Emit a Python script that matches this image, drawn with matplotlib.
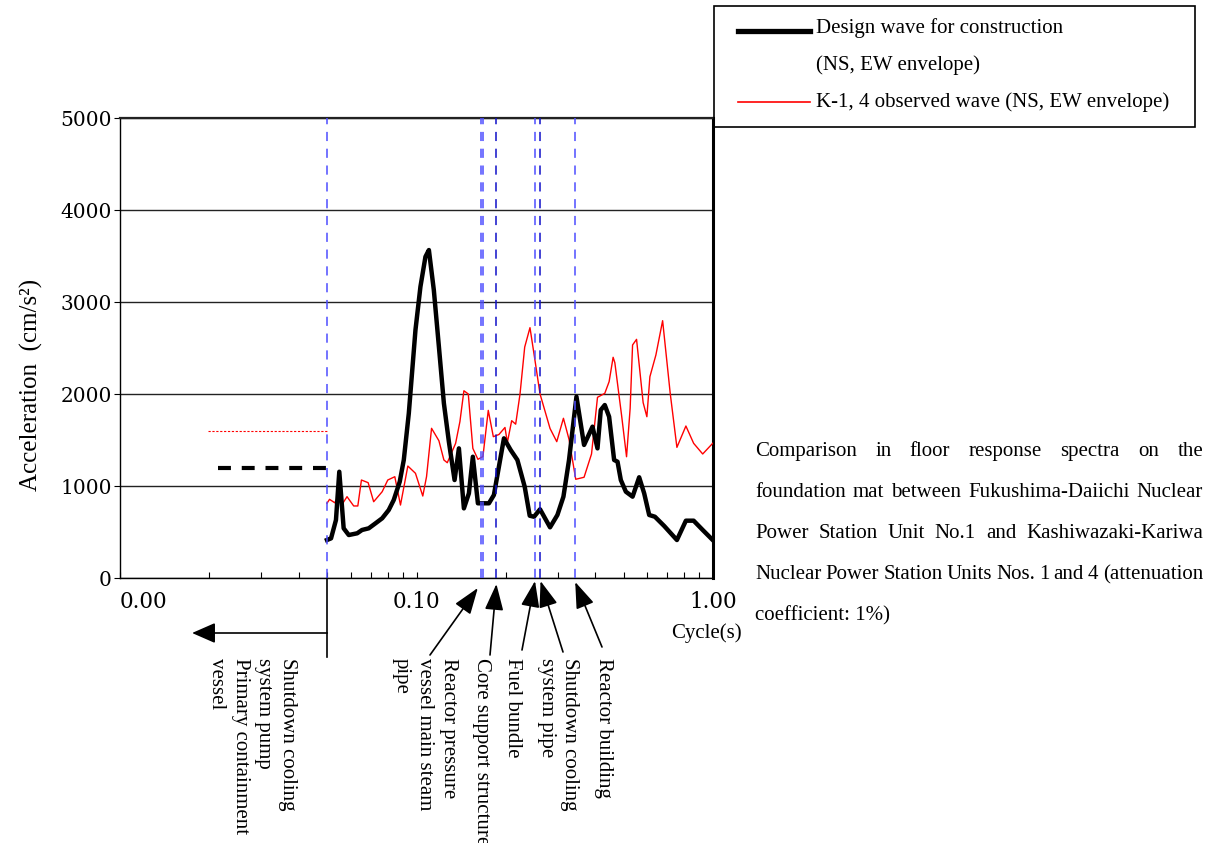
import matplotlib
matplotlib.use("Agg")
import matplotlib.pyplot as plt
from matplotlib.lines import Line2D
from matplotlib.patches import Rectangle

# Design wave for construction (NS, EW envelope)
design_period = [0.0499, 0.0515, 0.0535, 0.0549, 0.0568, 0.0591, 0.0631, 0.0655, 0.0690, 0.0727,
                 0.0766, 0.0806, 0.0838, 0.0878, 0.0906, 0.0942, 0.0992, 0.1031, 0.1072, 0.1101,
                 0.1144, 0.1190, 0.1237, 0.1286, 0.1344, 0.1390, 0.1445, 0.1502, 0.1549, 0.1611,
                 0.1755, 0.1824, 0.1972, 0.2078, 0.2189, 0.2317, 0.2409, 0.2491, 0.2610, 0.2821,
                 0.2987, 0.3130, 0.3269, 0.3463, 0.3674, 0.3923, 0.4078, 0.4183, 0.4315, 0.4463,
                 0.4640, 0.4764, 0.4888, 0.5083, 0.5355, 0.5636, 0.5860, 0.6092, 0.6369, 0.6847,
                 0.7556, 0.8102, 0.8604, 0.9231, 0.9977]
design_accel = [413, 431, 630, 1155, 540, 467, 486, 522, 540, 594,
                649, 739, 848, 1047, 1283, 1790, 2696, 3166, 3492, 3565,
                3130, 2514, 1899, 1480, 1065, 1409, 757, 920, 1318, 812,
                812, 902, 1518, 1391, 1283, 992, 677, 666, 747, 551,
                685, 884, 1283, 1971, 1446, 1645, 1409, 1826, 1880, 1753,
                1283, 1264, 1065, 938, 884, 1095, 920, 685, 666, 565,
                413, 623, 623, 522, 413]

# K-1, 4 observed wave (NS, EW envelope)
observed_period = [0.0499, 0.0509, 0.0530, 0.0549, 0.0564, 0.0583, 0.0614, 0.0634, 0.0652, 0.0687,
                   0.0717, 0.0766, 0.0800, 0.0845, 0.0883, 0.0935, 0.0992, 0.1050, 0.1081, 0.1124,
                   0.1190, 0.1237, 0.1270, 0.1355, 0.1401, 0.1445, 0.1495, 0.1549, 0.1611, 0.1675,
                   0.1746, 0.1816, 0.1897, 0.1988, 0.2025, 0.2094, 0.2160, 0.2234, 0.2317, 0.2414,
                   0.2503, 0.2610, 0.2821, 0.2972, 0.3130, 0.3269, 0.3444, 0.3674, 0.3893, 0.4078,
                   0.4315, 0.4463, 0.4604, 0.4666, 0.4915, 0.5110, 0.5255, 0.5355, 0.5523, 0.5813,
                   0.5984, 0.6126, 0.6418, 0.6762, 0.7173, 0.7556, 0.8102, 0.8604, 0.9231, 0.9977]
observed_accel = [812, 855, 818, 902, 812, 884, 783, 783, 1065, 1036,
                  829, 938, 1065, 1101, 793, 1217, 1138, 891, 1101, 1627,
                  1492, 1283, 1253, 1464, 1700, 2035, 2000, 1409, 1290, 1320,
                  1822, 1536, 1560, 1636, 1473, 1710, 1672, 1998, 2510, 2721,
                  2390, 2000, 1625, 1482, 1736, 1507, 1073, 1095, 1348, 1964,
                  2007, 2134, 2399, 2340, 1772, 1318, 1845, 2533, 2594, 1906,
                  1753, 2188, 2424, 2797, 2007, 1420, 1652, 1464, 1348, 1464]

# rigid-range levels below 0.05 s
design_rigid = 1200
observed_rigid = 1600
design_rigid_from = 0.0214
observed_rigid_from = 0.0198
rigid_limit = 0.05

# natural periods of the equipment (dashed markers)
equip_period = [0.05, 0.1645, 0.1675, 0.186, 0.251, 0.261, 0.343]
equip_dark = [False, False, False, True, False, True, False]

xticks = [0.01, 0.1, 1.0]
xtick_labels = ["0.00", "0.10", "1.00"]
yticks = [0, 1000, 2000, 3000, 4000, 5000]

# label, period the arrow points at
equip_labels = [
    ("Reactor pressure\nvessel main steam\npipe", 0.161),
    ("Core support structure", 0.186),
    ("Fuel bundle", 0.251),
    ("Shutdown cooling\nsystem pipe", 0.262),
    ("Reactor building", 0.343),
]

caption = [
    "Comparison in floor response spectra on the",
    "foundation mat between Fukushima-Daiichi Nuclear",
    "Power Station Unit No.1 and Kashiwazaki-Kariwa",
    "Nuclear Power Station Units Nos. 1 and 4 (attenuation",
    "coefficient: 1%)",
]

W, H = 1220, 843
SERIF = "Liberation Serif"
NUM = "DejaVu Serif"


def fxy(x, y):
    # pixel position (from top-left) -> figure fraction
    return x / W, 1 - y / H


def justified(fig, lines, x0, x1, y_first, dy, size):
    r = fig.canvas.get_renderer()
    for i, line in enumerate(lines):
        yb = y_first + i * dy
        if i == len(lines) - 1:
            fig.text(*fxy(x0, yb), line, family=SERIF, fontsize=size, va="baseline")
            continue
        words = line.split()
        arts = [fig.text(0, 0, w, family=SERIF, fontsize=size, va="baseline") for w in words]
        widths = [a.get_window_extent(r).width for a in arts]
        gap = (x1 - x0 - sum(widths)) / (len(words) - 1)
        x = x0
        for a, w in zip(arts, widths):
            a.set_position(fxy(x, yb))
            x += w + gap


fig = plt.figure(figsize=(W / 100, H / 100), dpi=100)
ax = fig.add_axes([120 / W, 1 - 578 / H, 593 / W, 460 / H])

ax.plot(observed_period, observed_accel, color="#ff0000", lw=1.0, zorder=3)
ax.plot(design_period, design_accel, color="black", lw=3.2, zorder=4,
        solid_joinstyle="round")
ax.plot([observed_rigid_from, rigid_limit], [observed_rigid, observed_rigid],
        color="#ff0000", lw=0.8, dashes=(2, 1.5), zorder=3)
ax.plot([design_rigid_from, rigid_limit], [design_rigid, design_rigid],
        color="black", lw=3.0, dashes=(3.1, 2.6), zorder=4)

for p, dark in zip(equip_period, equip_dark):
    ax.axvline(p, color="#1010c8" if dark else "#4d4dff", lw=1.1,
               dashes=(6, 5), zorder=5)

ax.set_xscale("log")
ax.set_xlim(0.01, 1.0)
ax.set_ylim(0, 5000)
ax.set_yticks(yticks)
ax.set_yticklabels([str(v) for v in yticks], family=NUM, fontsize=14.5)
ax.set_xticks(xticks)
ax.set_xticklabels(xtick_labels, family=NUM, fontsize=15.5)
ax.get_xticklabels()[0].set_horizontalalignment("left")
ax.tick_params(axis="x", which="both", direction="in", length=4, width=0.8, pad=9)
ax.tick_params(axis="y", direction="out", length=4, width=0.8, pad=2)
ax.yaxis.grid(True, color="#222222", lw=1.0)
ax.set_axisbelow(True)
for side in ["left", "bottom"]:
    ax.spines[side].set_linewidth(1.0)
ax.spines["top"].set_linewidth(1.6)
ax.spines["top"].set_color("#222222")
ax.spines["right"].set_linewidth(2.2)

ax.set_ylabel("Acceleration  (cm/s²)", family=SERIF, fontsize=18)
ax.yaxis.set_label_coords(-0.13, 0.42)

fig.text(*fxy(706, 633), "Cycle(s)", family=SERIF, fontsize=15, ha="center", va="center")

# 0.05 s boundary below the axis with arrow to the short-period side
xa = ax.get_xaxis_transform()
ax.plot([rigid_limit, rigid_limit], [0, -(657 - 578) / 460], transform=xa,
        color="black", lw=1.2, clip_on=False)
ax.annotate("", xy=(0.0175, -(633 - 578) / 460), xycoords=("data", "axes fraction"),
            xytext=(rigid_limit, -(633 - 578) / 460), textcoords=("data", "axes fraction"),
            arrowprops=dict(arrowstyle="-|>,head_length=0.8,head_width=0.35",
                            mutation_scale=18, color="black", lw=1.2,
                            shrinkA=0, shrinkB=0))
fig.text(*fxy(252, 658), "Shutdown cooling\nsystem pump\nPrimary containment\nvessel",
         family=SERIF, fontsize=15, rotation=-90, ha="center", va="top",
         multialignment="left", linespacing=1.32)

# arrows from component labels to their natural periods
tails = [(430, 655), (490, 655), (522, 650), (563, 652), (602, 647)]
tip_y = [588, 584, 581, 581, 582]
text_x = [425, 481, 512, 558, 604]
for (label, p), tail, ty, tx in zip(equip_labels, tails, tip_y, text_x):
    ax.annotate("", xy=(p, -(ty - 578) / 460), xycoords=("data", "axes fraction"),
                xytext=fxy(*tail), textcoords="figure fraction",
                arrowprops=dict(arrowstyle="-|>,head_length=0.9,head_width=0.32",
                                mutation_scale=18, color="black", lw=1.2,
                                shrinkA=0, shrinkB=0))
    fig.text(*fxy(tx, 658), label, family=SERIF, fontsize=15, rotation=-90,
             ha="center", va="top", multialignment="left", linespacing=1.32)

# legend box
bx0, by0 = fxy(714, 127)
bx1, by1 = fxy(1195, 6)
fig.add_artist(Rectangle((bx0, by0), bx1 - bx0, by1 - by0, transform=fig.transFigure,
                         fill=False, edgecolor="black", lw=1.2))
for y, color, lw in [(31, "black", 3.8), (102, "#ff0000", 1.2)]:
    (xl0, yl), (xl1, _) = fxy(738, y), fxy(810, y)
    fig.add_artist(Line2D([xl0, xl1], [yl, yl], transform=fig.transFigure, color=color, lw=lw))
fig.text(*fxy(816, 28), "Design wave for construction", family=SERIF, fontsize=15, va="center")
fig.text(*fxy(816, 65), "(NS, EW envelope)", family=SERIF, fontsize=15, va="center")
fig.text(*fxy(816, 102), "K-1, 4 observed wave (NS, EW envelope)", family=SERIF,
         fontsize=15, va="center")

justified(fig, caption, 755, 1203, 456, 41, 15)

fig.savefig("out.png", dpi=100)
